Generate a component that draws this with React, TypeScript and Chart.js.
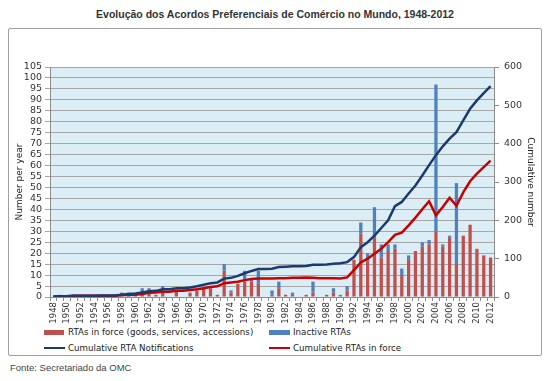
import React, { useEffect, useRef } from "react";
import { Chart, registerables } from "chart.js";

Chart.register(...registerables);

const years = [
  "1948", "1949", "1950", "1951", "1952", "1953", "1954", "1955", "1956", "1957",
  "1958", "1959", "1960", "1961", "1962", "1963", "1964", "1965", "1966", "1967",
  "1968", "1969", "1970", "1971", "1972", "1973", "1974", "1975", "1976", "1977",
  "1978", "1979", "1980", "1981", "1982", "1983", "1984", "1985", "1986", "1987",
  "1988", "1989", "1990", "1991", "1992", "1993", "1994", "1995", "1996", "1997",
  "1998", "1999", "2000", "2001", "2002", "2003", "2004", "2005", "2006", "2007",
  "2008", "2009", "2010", "2011", "2012",
];

const rtasInForce = [
  0, 1, 0, 1, 0, 0, 0, 0, 0, 0,
  2, 0, 1, 2, 3, 1, 3, 0, 3, 0,
  2, 3, 4, 4, 1, 12, 2, 6, 7, 7,
  6, 0, 1, 4, 1, 1, 0, 1, 2, 0,
  1, 2, 0, 3, 17, 29, 16, 27, 18, 21,
  22, 10, 17, 21, 23, 24, 30, 23, 27, 15,
  28, 33, 22, 19, 18,
];

const inactiveRtas = [
  0, 0, 0, 0, 0, 0, 0, 1, 0, 0,
  0, 2, 0, 2, 1, 0, 2, 0, 0, 0,
  0, 0, 0, 0, 0, 3, 1, 0, 5, 1,
  6, 0, 2, 3, 0, 1, 0, 0, 5, 0,
  0, 2, 1, 2, 0, 5, 4, 14, 6, 3,
  2, 3, 2, 0, 2, 2, 67, 1, 1, 37,
  0, 0, 0, 0, 0,
];

const cumulativeNotifications = [
  1, 2, 2, 3, 3, 3, 3, 4, 4, 4,
  6, 8, 9, 12, 15, 16, 20, 20, 23, 23,
  25, 28, 32, 36, 38, 48, 50, 55, 62, 68,
  73, 73, 74, 78, 79, 80, 80, 81, 84, 84,
  85, 87, 88, 91, 104, 130, 143, 160, 180, 200,
  237, 248, 270, 291, 317, 344, 370, 393, 413, 430,
  461, 491, 513, 532, 550,
];

const cumulativeInForce = [
  1, 2, 2, 3, 3, 3, 3, 3, 3, 3,
  5, 5, 6, 8, 11, 12, 14, 14, 16, 16,
  18, 20, 23, 26, 28, 36, 38, 40, 44, 47,
  48, 48, 48, 49, 49, 50, 50, 51, 50, 49,
  49, 49, 48, 51, 70, 90, 100, 113, 126, 143,
  162, 168, 187, 207, 229, 250, 213, 235, 259, 238,
  273, 302, 322, 339, 356,
];

const TITLE = "Evolução dos Acordos Preferenciais de Comércio no Mundo, 1948-2012";
const LEFT_TITLE = "Number per year";
const RIGHT_TITLE = "Cumulative number";
const SOURCE = "Fonte: Secretariado da OMC";

const RED_BAR = "#C0504D";
const BLUE_BAR = "#4F81BD";
const NAVY_LINE = "#1B3A70";
const RED_LINE = "#C80000";
const FONT = "'DejaVu Sans', Verdana, sans-serif";

const plotBg = {
  id: "plotBg",
  beforeDraw(chart: any) {
    const { ctx, chartArea: a } = chart;
    ctx.save();
    ctx.fillStyle = "#DCEEF5";
    ctx.fillRect(a.left, a.top, a.right - a.left, a.bottom - a.top);
    ctx.restore();
  },
};

export default function App() {
  const ref = useRef<HTMLCanvasElement | null>(null);

  useEffect(() => {
    if (!ref.current) return;
    const chart = new Chart(ref.current, {
      type: "bar",
      data: {
        labels: years,
        datasets: [
          {
            type: "line",
            label: "Cumulative RTA Notifications",
            data: cumulativeNotifications,
            yAxisID: "y1",
            borderColor: NAVY_LINE,
            borderWidth: 2.5,
            pointRadius: 0,
            tension: 0,
            order: 1,
          },
          {
            type: "line",
            label: "Cumulative RTAs in force",
            data: cumulativeInForce,
            yAxisID: "y1",
            borderColor: RED_LINE,
            borderWidth: 2.5,
            pointRadius: 0,
            tension: 0,
            order: 1,
          },
          {
            type: "bar",
            label: "RTAs in force (goods, services, accessions)",
            data: rtasInForce,
            yAxisID: "y",
            backgroundColor: RED_BAR,
            stack: "s",
            barPercentage: 0.48,
            categoryPercentage: 1,
            order: 2,
          },
          {
            type: "bar",
            label: "Inactive RTAs",
            data: inactiveRtas,
            yAxisID: "y",
            backgroundColor: BLUE_BAR,
            stack: "s",
            barPercentage: 0.48,
            categoryPercentage: 1,
            order: 2,
          },
        ],
      } as any,
      options: {
        animation: false,
        responsive: false,
        layout: { padding: { top: 39, left: 0, right: 0, bottom: 0 } },
        plugins: { legend: { display: false }, tooltip: { enabled: false } },
        scales: {
          x: {
            type: "category",
            offset: true,
            stacked: true,
            grid: {
              display: true,
              drawOnChartArea: false,
              drawTicks: true,
              tickLength: 4,
              color: "#8C8C8C",
              offset: true,
            },
            border: { display: true, color: "#8C8C8C" },
            ticks: {
              autoSkip: false,
              minRotation: 90,
              maxRotation: 90,
              padding: 1,
              color: "#333",
              font: { family: FONT, size: 8.5 },
              callback: (_v: any, i: number) => (i % 2 === 0 ? years[i] : ""),
            },
            afterFit: (s: any) => {
              s.height = 28;
            },
          },
          y: {
            position: "left",
            stacked: true,
            min: 0,
            max: 105,
            ticks: {
              stepSize: 5,
              autoSkip: false,
              padding: 3,
              color: "#333",
              font: { family: FONT, size: 9.5 },
            },
            grid: { color: "#A6A6A6", tickLength: 5, drawTicks: true },
            border: { display: true, color: "#8C8C8C" },
            title: {
              display: true,
              text: LEFT_TITLE,
              color: "#222",
              font: { family: FONT, size: 9 },
              padding: { top: 6, bottom: 0 },
            },
            afterFit: (s: any) => {
              s.width = 42;
            },
          },
          y1: {
            position: "right",
            min: 0,
            max: 600,
            ticks: {
              stepSize: 100,
              autoSkip: false,
              padding: 5,
              color: "#333",
              font: { family: FONT, size: 9.5 },
            },
            grid: { drawOnChartArea: false, tickLength: 5, color: "#8C8C8C" },
            border: { display: true, color: "#8C8C8C" },
            title: {
              display: true,
              text: RIGHT_TITLE,
              color: "#222",
              font: { family: FONT, size: 9 },
              padding: { top: 6, bottom: 0 },
            },
            afterFit: (s: any) => {
              s.width = 48;
            },
          },
        },
      } as any,
      plugins: [plotBg],
    });
    return () => chart.destroy();
  }, []);

  const legendText: React.CSSProperties = {
    fontFamily: FONT,
    fontSize: 8.7,
    color: "#222",
    whiteSpace: "nowrap",
  };
  const row = (top: number, left: number): React.CSSProperties => ({
    position: "absolute",
    top,
    left,
    height: 14,
    display: "flex",
    alignItems: "center",
  });

  return (
    <div
      style={{
        position: "absolute",
        left: 0,
        top: 0,
        width: 550,
        height: 381,
        background: "#fff",
        fontFamily: "'Liberation Sans', Arial, sans-serif",
      }}
    >
      <div
        style={{
          position: "absolute",
          left: 0,
          top: 8,
          width: 550,
          textAlign: "center",
          fontWeight: "bold",
          fontSize: 10.5,
          color: "#333",
          lineHeight: "13px",
        }}
      >
        {TITLE}
      </div>
      <div
        style={{
          position: "absolute",
          left: 8,
          top: 28,
          width: 534,
          height: 328,
          border: "1px solid #A0A0A0",
          boxSizing: "border-box",
          borderRadius: 2,
        }}
      />
      <canvas
        ref={ref}
        width={534}
        height={297}
        style={{ position: "absolute", left: 8, top: 28, width: 534, height: 297 }}
      />
      <div style={row(325, 44)}>
        <div style={{ width: 20, height: 5, background: RED_BAR, marginRight: 4 }} />
        <span style={legendText}>RTAs in force (goods, services, accessions)</span>
      </div>
      <div style={row(325, 269)}>
        <div style={{ width: 21, height: 5, background: BLUE_BAR, marginRight: 3 }} />
        <span style={legendText}>Inactive RTAs</span>
      </div>
      <div style={row(341, 44)}>
        <div style={{ width: 21, height: 2.5, background: NAVY_LINE, marginRight: 3 }} />
        <span style={legendText}>Cumulative RTA Notifications</span>
      </div>
      <div style={row(341, 269)}>
        <div style={{ width: 21, height: 2.5, background: RED_LINE, marginRight: 3 }} />
        <span style={legendText}>Cumulative RTAs in force</span>
      </div>
      <div
        style={{
          position: "absolute",
          left: 10,
          top: 362,
          fontSize: 9.5,
          color: "#444",
          lineHeight: "12px",
        }}
      >
        {SOURCE}
      </div>
    </div>
  );
}
